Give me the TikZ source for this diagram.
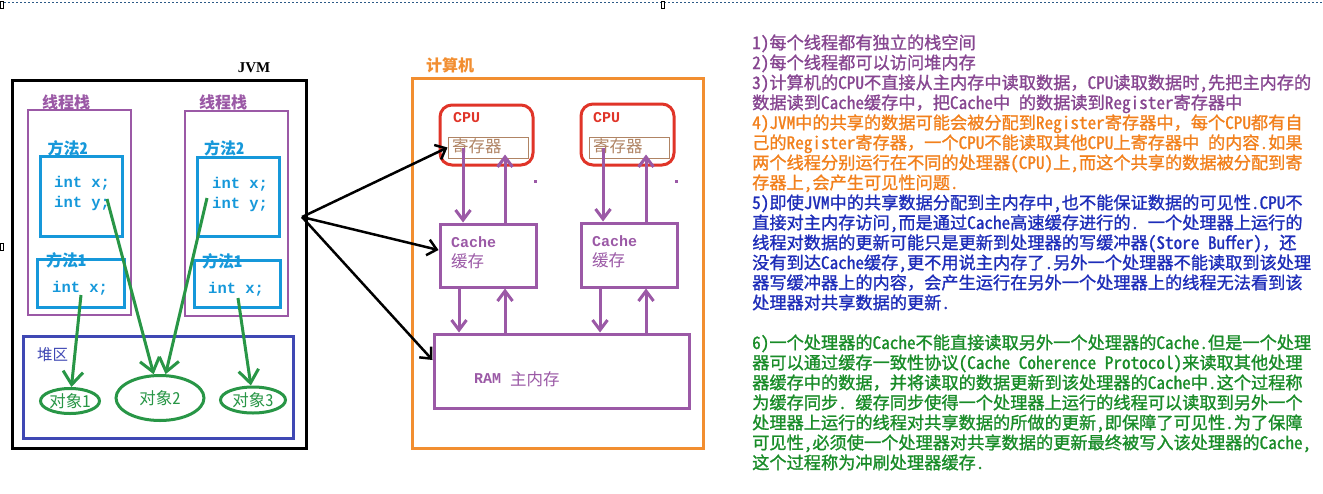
\documentclass[tikz,border=0pt]{standalone}
\usepackage{fontspec}
\setmainfont{Noto Sans CJK SC}[RawFeature=+hwid]
\newfontfamily\notefont{Noto Sans CJK SC}[RawFeature=+hwid, FakeBold=1.2]
\newfontfamily\widefont{Noto Sans CJK SC}[FakeBold=1.2]
\newfontfamily\monofont{Liberation Mono}
\newfontfamily\seriffont{Liberation Serif}
\usetikzlibrary{arrows.meta,shapes.geometric}

\newcommand{\fwc}{{\widefont ，}}

\definecolor{selblue}{RGB}{45,90,135}
\definecolor{stackpurple}{RGB}{155,89,166}
\definecolor{methodblue}{RGB}{22,152,218}
\definecolor{heapblue}{RGB}{63,72,180}
\definecolor{objgreen}{RGB}{40,150,70}
\definecolor{pcorange}{RGB}{242,142,48}
\definecolor{cpured}{RGB}{224,52,40}
\definecolor{regbrown}{RGB}{176,132,100}
\definecolor{notepurple}{RGB}{135,70,145}
\definecolor{noteorange}{RGB}{242,128,28}
\definecolor{noteblue}{RGB}{30,45,185}
\definecolor{notegreen}{RGB}{25,140,40}

\tikzset{
  every node/.style={inner sep=0pt},
  boxline/.style={draw=#1, line width=3pt},
  jvmbox/.style={boxline=black},
  stackbox/.style={boxline=stackpurple, line width=2.5pt},
  methodbox/.style={boxline=methodblue},
  heapbox/.style={boxline=heapblue},
  objnode/.style={ellipse, boxline=objgreen, text=objgreen, font=\fontsize{16.5}{18}\selectfont},
  pcbox/.style={boxline=pcorange},
  cpubox/.style={boxline=cpured, rounded corners=12pt},
  regbox/.style={draw=regbrown, line width=1pt},
  membox/.style={boxline=stackpurple},
  headlabel/.style={font=\bfseries\fontsize{16}{18}\selectfont},
  codetext/.style={anchor=west, text=methodblue, font=\monofont\bfseries\fontsize{15.5}{18}\selectfont},
  latintext/.style={anchor=west, font=\monofont\bfseries\fontsize{15}{18}\selectfont},
  cjktext/.style={anchor=west, font=\fontsize{16.5}{18}\selectfont},
  notetext/.style={anchor=base west, font=\notefont\fontsize{17.2}{20}\selectfont},
  jvmarrow/.style={line width=2.5pt, -{Straight Barb[length=9pt,width=16pt,line width=2.5pt]}},
  objarrow/.style={objgreen, line width=3pt, -{Straight Barb[length=13pt,width=20pt,line width=3pt]}},
  busarrow/.style={stackpurple, line width=3pt, -{Straight Barb[length=10pt,width=15pt,line width=3pt]}},
  grip/.style={draw=black, fill=white, line width=0.6pt, minimum width=3pt, minimum height=7pt}
}

\begin{document}
\begin{tikzpicture}[x=1pt,y=-1pt]
  \useasboundingbox[fill=white] (0,0) rectangle (1323,493);

  % selection frame of the pasted picture
  \draw[selblue, line width=1pt, dash pattern=on 2pt off 2pt] (0,2) -- (1323,2);
  \node[grip] (gtl) at (1.5,5) {};
  \node[grip] (gtm) at (663,5) {};
  \node[grip] (gml) at (1.5,247) {};

  % JVM
  \node[jvmbox, minimum width=294pt, minimum height=368pt] (jvm) at (159,264) {};
  \node[font=\seriffont\bfseries\fontsize{15}{16}\selectfont] (jvmlabel) at (254,68) {JVM};

  \node[stackbox, minimum width=103pt, minimum height=205pt] (stk1) at (79.5,212.5) {};
  \node[stackbox, minimum width=103pt, minimum height=205pt] (stk2) at (236.5,213.5) {};
  \node[headlabel, text=stackpurple] (stk1label) at (66,102) {线程栈};
  \node[headlabel, text=stackpurple] (stk2label) at (223,102) {线程栈};

  \node[methodbox, minimum width=82pt, minimum height=80pt] (m12) at (81,196) {};
  \node[methodbox, minimum width=87pt, minimum height=48pt] (m11) at (80.5,283) {};
  \node[methodbox, minimum width=82pt, minimum height=79pt] (m22) at (238,196.5) {};
  \node[methodbox, minimum width=86pt, minimum height=47pt] (m21) at (237,283.5) {};
  \node[headlabel, text=methodblue] (m12label) at (67.5,148) {方法2};
  \node[headlabel, text=methodblue] (m11label) at (66,260) {方法1};
  \node[headlabel, text=methodblue] (m22label) at (224,148) {方法2};
  \node[headlabel, text=methodblue] (m21label) at (222,261) {方法1};

  \node[codetext] (m12x) at (54,183) {int x;};
  \node[codetext] (m12y) at (54,203) {int y;};
  \node[codetext] (m11x) at (52,288) {int x;};
  \node[codetext] (m22x) at (212,184) {int x;};
  \node[codetext] (m22y) at (212,204) {int y;};
  \node[codetext] (m21x) at (208,289) {int x;};

  % heap
  \node[heapbox, minimum width=270pt, minimum height=102pt] (heap) at (158,387) {};
  \node[text=heapblue, font=\fontsize{15.5}{18}\selectfont] (heaplabel) at (52.5,355) {堆区};
  \node[objnode, minimum width=59pt, minimum height=25pt] (o1) at (70,401) {对象1};
  \node[objnode, minimum width=88pt, minimum height=45pt] (o2) at (160,398) {对象2};
  \node[objnode, minimum width=65pt, minimum height=26pt] (o3) at (253,400) {对象3};

  \coordinate (m11ref) at (81,295);
  \coordinate (m12ref) at (107,199);
  \coordinate (m22ref) at (207,198);
  \coordinate (m21ref) at (238,298);
  \draw[objarrow] (m11ref) -- (o1);
  \draw[objarrow] (m12ref) -- (o2);
  \draw[objarrow] (m22ref) -- (o2);
  \draw[objarrow] (m21ref) -- (o3);

  % computer
  \node[pcbox, minimum width=291pt, minimum height=370pt] (pc) at (557.5,263) {};
  \node[headlabel, text=pcorange] (pclabel) at (450,65) {计算机};

  \node[cpubox, minimum width=93pt, minimum height=60pt] (cpu1) at (486.5,135) {};
  \node[cpubox, minimum width=93pt, minimum height=61pt] (cpu2) at (627.5,134.5) {};
  \node[latintext, text=cpured] (cpu1label) at (453,118) {CPU};
  \node[latintext, text=cpured] (cpu2label) at (593,118) {CPU};
  \node[regbox, minimum width=80pt, minimum height=21pt] (reg1) at (488,147.5) {};
  \node[regbox, minimum width=80pt, minimum height=21pt] (reg2) at (629,147.5) {};
  \node[cjktext, text=regbrown] (reg1label) at (452,146) {寄存器};
  \node[cjktext, text=regbrown] (reg2label) at (593,146) {寄存器};
  \fill[stackpurple] (533.5,179.5) rectangle (536.5,182.5);
  \fill[stackpurple] (674.5,179.5) rectangle (677.5,182.5);

  \node[membox, minimum width=96pt, minimum height=63pt] (cache1) at (488,255.5) {};
  \node[membox, minimum width=96pt, minimum height=64pt] (cache2) at (629,255) {};
  \node[latintext, text=stackpurple] (cache1a) at (451,242) {Cache};
  \node[cjktext, text=stackpurple] (cache1b) at (451,261) {缓存};
  \node[latintext, text=stackpurple] (cache2a) at (592,241) {Cache};
  \node[cjktext, text=stackpurple] (cache2b) at (592,260) {缓存};

  \node[membox, minimum width=255pt, minimum height=74pt] (ram) at (561.5,371) {};
  \node[latintext, text=stackpurple] (ramlabel) at (474,379) {RAM};
  \node[cjktext, text=stackpurple] (ramlabelb) at (510,379) {主内存};

  \coordinate (c1dn) at ([xshift=-29pt]cache1.south);
  \coordinate (c1up) at ([xshift=17pt]cache1.south);
  \coordinate (c2dn) at ([xshift=-29pt]cache2.south);
  \coordinate (c2up) at ([xshift=17pt]cache2.south);
  \draw[busarrow] ([xshift=-25pt]reg1.center) -- ([xshift=-25pt]cache1.north);
  \draw[busarrow] ([xshift=17pt]cache1.north) -- ([xshift=17pt,yshift=4pt]reg1.south);
  \draw[busarrow] (c1dn) -- (c1dn |- ram.north);
  \draw[busarrow] (c1up |- ram.north) -- (c1up);
  \draw[busarrow] ([xshift=-26pt]reg2.center) -- ([xshift=-26pt]cache2.north);
  \draw[busarrow] ([xshift=17pt]cache2.north) -- ([xshift=17pt,yshift=4pt]reg2.south);
  \draw[busarrow] (c2dn) -- (c2dn |- ram.north);
  \draw[busarrow] (c2up |- ram.north) -- (c2up);

  % from the JVM to the computer
  \coordinate (jvmout) at (302,217);
  \draw[jvmarrow] (jvmout) -- (reg1.west);
  \draw[jvmarrow] (jvmout) -- ([yshift=5.5pt]cache1.west);
  \draw[jvmarrow] (jvmout) -- ([yshift=11pt]ram.west);

  % notes
  \begin{scope}[text=notepurple]
    \node[notetext] (n1) at (752,49) {1)每个线程都有独立的栈空间};
    \node[notetext] (n2) at (752,69) {2)每个线程都可以访问堆内存};
    \node[notetext] (n3) at (752,89) {3)计算机的CPU不直接从主内存中读取数据\fwc CPU读取数据时,先把主内存的};
    \node[notetext] (n4) at (752,109) {数据读到Cache缓存中\fwc 把Cache中 的数据读到Register寄存器中};
  \end{scope}
  \begin{scope}[text=noteorange]
    \node[notetext] (n5) at (752,129) {4)JVM中的共享的数据可能会被分配到Register寄存器中\fwc 每个CPU都有自};
    \node[notetext] (n6) at (752,149) {己的Register寄存器\fwc 一个CPU不能读取其他CPU上寄存器中 的内容.如果};
    \node[notetext] (n7) at (752,169) {两个线程分别运行在不同的处理器(CPU)上,而这个共享的数据被分配到寄};
    \node[notetext] (n8) at (752,189) {存器上,会产生可见性问题.};
  \end{scope}
  \begin{scope}[text=noteblue]
    \node[notetext] (n9) at (752,209) {5)即使JVM中的共享数据分配到主内存中,也不能保证数据的可见性.CPU不};
    \node[notetext] (n10) at (752,229) {直接对主内存访问,而是通过Cache高速缓存进行的.\hspace{0.5em}一个处理器上运行的};
    \node[notetext] (n11) at (752,249) {线程对数据的更新可能只是更新到处理器的写缓冲器(Store Buffer)\fwc 还};
    \node[notetext] (n12) at (752,269) {没有到达Cache缓存,更不用说主内存了.另外一个处理器不能读取到该处理};
    \node[notetext] (n13) at (752,289) {器写缓冲器上的内容\fwc 会产生运行在另外一个处理器上的线程无法看到该};
    \node[notetext] (n14) at (752,309) {处理器对共享数据的更新.};
  \end{scope}
  \begin{scope}[text=notegreen]
    \node[notetext] (n15) at (752,349) {6)一个处理器的Cache不能直接读取另外一个处理器的Cache.但是一个处理};
    \node[notetext] (n16) at (752,369) {器可以通过缓存一致性协议(Cache Coherence Protocol)来读取其他处理};
    \node[notetext] (n17) at (752,389) {器缓存中的数据\fwc 并将读取的数据更新到该处理器的Cache中.这个过程称};
    \node[notetext] (n18) at (752,409) {为缓存同步.\hspace{0.5em}缓存同步使得一个处理器上运行的线程可以读取到另外一个};
    \node[notetext] (n19) at (752,429) {处理器上运行的线程对共享数据的所做的更新,即保障了可见性.为了保障};
    \node[notetext] (n20) at (752,449) {可见性,必须使一个处理器对共享数据的更新最终被写入该处理器的Cache,};
    \node[notetext] (n21) at (752,469) {这个过程称为冲刷处理器缓存.};
  \end{scope}
\end{tikzpicture}
\end{document}
